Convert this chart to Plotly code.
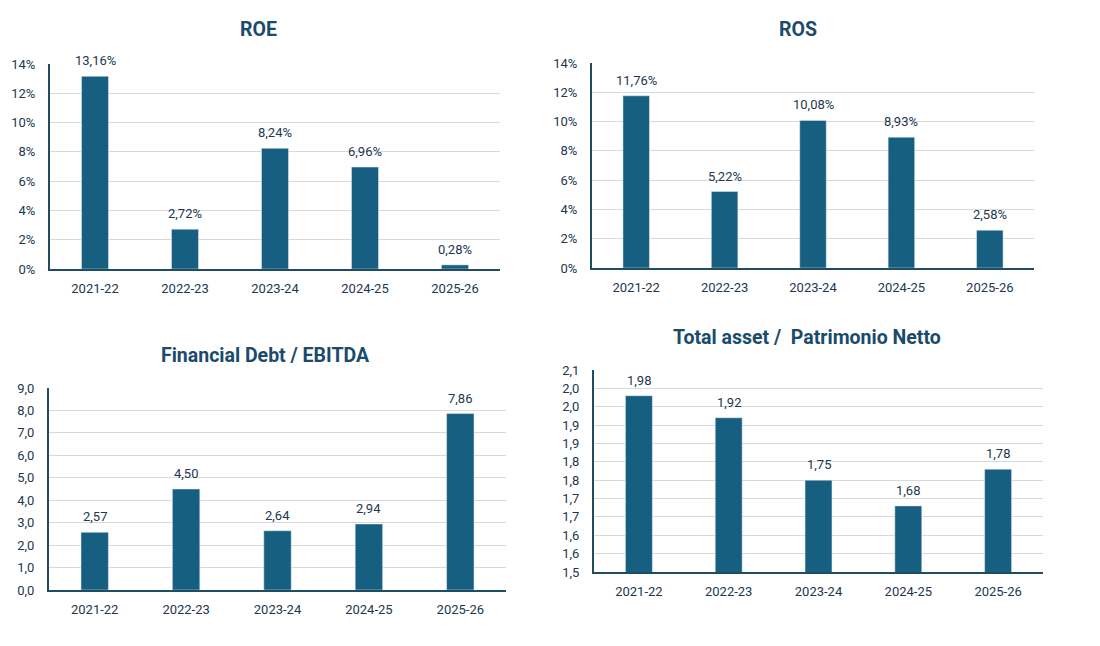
import plotly.graph_objects as go

categories = ["2021-22", "2022-23", "2023-24", "2024-25", "2025-26"]

roe = [0.1316, 0.0272, 0.0824, 0.0696, 0.0028]
ros = [0.1176, 0.0522, 0.1008, 0.0893, 0.0258]
debt_ebitda = [2.57, 4.50, 2.64, 2.94, 7.86]
asset_pn = [1.98, 1.92, 1.75, 1.68, 1.78]

titles = ["ROE", "ROS", "Financial Debt / EBITDA", "Total asset /  Patrimonio Netto"]

pct_ticks = [0, 0.02, 0.04, 0.06, 0.08, 0.10, 0.12, 0.14]
debt_ticks = [0, 1, 2, 3, 4, 5, 6, 7, 8, 9]
asset_tickvals = [1.50, 1.55, 1.60, 1.65, 1.70, 1.75, 1.80, 1.85, 1.90, 1.95, 2.00, 2.05]
asset_ticktext = ["1,5", "1,6", "1,6", "1,7", "1,7", "1,8", "1,8", "1,9", "1,9", "2,0", "2,0", "2,1"]

W, H = 1100, 646
BAR = "#175f80"
AX = "#1f4e62"
GRID = "#d9d9d9"
TXT = "#22374f"
TITLE = "#1a4b6c"
FONT = "Roboto"

# pixel boxes: (left, right, top, bottom)
boxes = [(50, 500, 64, 269), (592, 1034, 63, 268), (49, 506, 388, 590), (594, 1043, 370, 572)]
title_pos = [(258, 30), (798, 30), (265, 355), (807, 337)]

series = [roe, ros, debt_ebitda, asset_pn]
fmt = ["%", "%", "n", "n"]

fig = go.Figure()
layout = dict(
    width=W, height=H, margin=dict(l=0, r=0, t=0, b=0, autoexpand=False),
    paper_bgcolor="white", plot_bgcolor="white",
    separators=",.", showlegend=False,
    font=dict(family=FONT, size=13, color=TXT),
)
annotations = []
for i, (vals, box) in enumerate(zip(series, boxes)):
    n = "" if i == 0 else str(i + 1)
    xa, ya = "x" + n, "y" + n
    l, r, t, b = box
    fig.add_trace(go.Bar(x=categories, y=vals, marker_color=BAR, width=0.3,
                         xaxis=xa, yaxis=ya, hoverinfo="skip"))
    layout["xaxis" + n] = dict(domain=[l / W, r / W], anchor=ya, showgrid=False,
                               showline=True, linecolor=AX, linewidth=2, ticks="",
                               automargin=False,
                               ticklabelstandoff=6, tickfont=dict(size=13, color=TXT),
                               fixedrange=True)
    yd = dict(domain=[1 - b / H, 1 - t / H], anchor=xa, showgrid=True, gridcolor=GRID,
              gridwidth=1, showline=True, linecolor=AX, linewidth=2, ticks="",
              zeroline=False, automargin=False,
              ticklabelstandoff=10, tickfont=dict(size=13, color=TXT),
              fixedrange=True)
    if i < 2:
        yd.update(range=[0, 0.14], tickvals=pct_ticks, tickformat=".0%")
    elif i == 2:
        yd.update(range=[0, 9], tickvals=debt_ticks, tickformat=".1f")
    else:
        yd.update(range=[1.5, 2.05], tickvals=asset_tickvals, ticktext=asset_ticktext)
    layout["yaxis" + n] = yd
    for c, v in zip(categories, vals):
        txt = (f"{v*100:.2f}%" if fmt[i] == "%" else f"{v:.2f}").replace(".", ",")
        annotations.append(dict(x=c, y=v, xref=xa, yref=ya, text=txt, showarrow=False,
                                yanchor="bottom", yshift=6,
                                font=dict(size=13, color=TXT, family=FONT)))
    tx, ty = title_pos[i]
    annotations.append(dict(x=tx / W, y=1 - ty / H, xref="paper", yref="paper",
                            text=f"<b>{titles[i]}</b>", showarrow=False,
                            xanchor="center", yanchor="middle",
                            font=dict(size=19.5, color=TITLE, family=FONT)))
layout["annotations"] = annotations
fig.update_layout(**layout)
fig.write_html("out.html")
